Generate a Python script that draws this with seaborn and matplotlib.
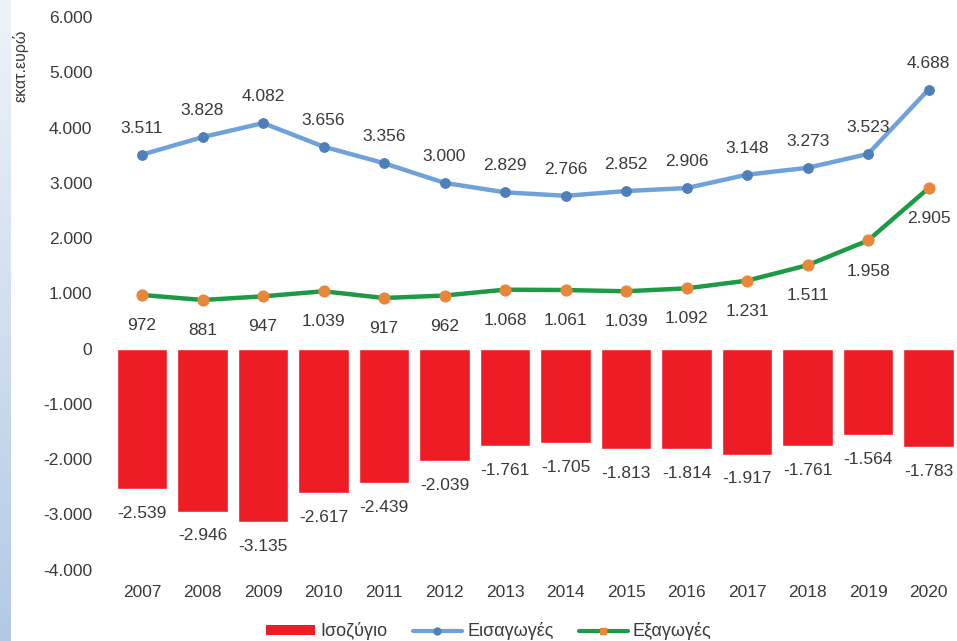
import numpy as np
import pandas as pd
import matplotlib
matplotlib.use("Agg")
import matplotlib.pyplot as plt
from matplotlib.patches import Patch
from matplotlib.lines import Line2D
import seaborn as sns

years = [2007, 2008, 2009, 2010, 2011, 2012, 2013, 2014, 2015, 2016, 2017, 2018, 2019, 2020]
imports = [3511, 3828, 4082, 3656, 3356, 3000, 2829, 2766, 2852, 2906, 3148, 3273, 3523, 4688]
exports = [972, 881, 947, 1039, 917, 962, 1068, 1061, 1039, 1092, 1231, 1511, 1958, 2905]
balance = [-2539, -2946, -3135, -2617, -2439, -2039, -1761, -1705, -1813, -1814, -1917, -1761, -1564, -1783]
y_ticks = [6000, 5000, 4000, 3000, 2000, 1000, 0, -1000, -2000, -3000, -4000]

series_names = ["Ισοζύγιο", "Εισαγωγές", "Εξαγωγές"]
y_label = "εκατ.ευρώ"

RED = "#ee1c24"
BLUE_LINE = "#6ea2d8"
BLUE_MARK = "#4f7fb8"
GREEN = "#1c9a46"
ORANGE = "#e8873a"
TEXT = "#3a3a3a"
FS = 12.5

sns.set_theme(style="white")
plt.rcParams["font.family"] = ["Liberation Sans", "DejaVu Sans"]

df = pd.DataFrame({
    "pos": np.arange(len(years)),
    "year": years,
    "imports": imports,
    "exports": exports,
    "balance": balance,
})

def fmt(v):
    return f"{int(v):,}".replace(",", ".")

fig = plt.figure(figsize=(9.57, 6.41), dpi=100)

# pale blue gradient strip along the left edge
strip = fig.add_axes([0, 0, 0.011, 1])
grad = np.linspace(0, 1, 256).reshape(-1, 1)
cmap = matplotlib.colors.LinearSegmentedColormap.from_list("strip", ["#eef3f9", "#b3c9e3"])
strip.imshow(grad, aspect="auto", cmap=cmap, origin="upper")
strip.set_axis_off()

ax = fig.add_axes([0.1168, 0.1025, 0.8832, 0.8795])
ax.set_facecolor("none")

sns.barplot(data=df, x="pos", y="balance", color=RED, width=0.83,
            saturation=1, ax=ax, zorder=2)
sns.lineplot(data=df, x="pos", y="imports", color=BLUE_LINE, lw=3.2,
             marker="o", markersize=7, markerfacecolor=BLUE_MARK,
             markeredgecolor=BLUE_MARK, ax=ax, zorder=3)
sns.lineplot(data=df, x="pos", y="exports", color=GREEN, lw=3.2,
             marker="o", markersize=8, markerfacecolor=ORANGE,
             markeredgecolor=ORANGE, ax=ax, zorder=3)

ax.set_xlim(-0.5, 13.47)
ax.set_ylim(-4100, 6100)
ax.set_yticks(y_ticks)
ax.set_yticklabels([fmt(t) for t in y_ticks])
ax.set_xticks(df["pos"])
ax.set_xticklabels([str(y) for y in years])
ax.tick_params(axis="both", length=0, labelsize=FS, colors=TEXT)
ax.tick_params(axis="y", pad=14)
ax.tick_params(axis="x", pad=7)
ax.set_xlabel("")
ax.set_ylabel("")
for s in ax.spines.values():
    s.set_visible(False)
ax.grid(False)

for i, v in enumerate(imports):
    ax.annotate(fmt(v), (i, v), xytext=(0, 19), textcoords="offset points",
                ha="center", va="center", fontsize=FS, color=TEXT)
for i, v in enumerate(exports):
    ax.annotate(fmt(v), (i, v), xytext=(0, -22), textcoords="offset points",
                ha="center", va="center", fontsize=FS, color=TEXT)
for i, v in enumerate(balance):
    ax.annotate(fmt(v), (i, v), xytext=(0, -17.5), textcoords="offset points",
                ha="center", va="center", fontsize=FS, color=TEXT)

fig.text(0.021, 0.898, y_label, rotation=90, ha="center", va="center",
         fontsize=11.5, color=TEXT)

handles = [
    Patch(facecolor=RED, edgecolor="none"),
    Line2D([], [], color=BLUE_LINE, lw=3, marker="o", markersize=5,
           markerfacecolor=BLUE_MARK, markeredgecolor=BLUE_MARK),
    Line2D([], [], color=GREEN, lw=3, marker="s", markersize=5,
           markerfacecolor=ORANGE, markeredgecolor=ORANGE),
]
fig.legend(handles, series_names, loc="center", bbox_to_anchor=(0.511, 0.015),
           ncol=3, frameon=False, fontsize=13, handlelength=2.7,
           handleheight=0.5, columnspacing=1.4, handletextpad=0.3,
           labelcolor=TEXT)

fig.savefig("out.png", dpi=100)
